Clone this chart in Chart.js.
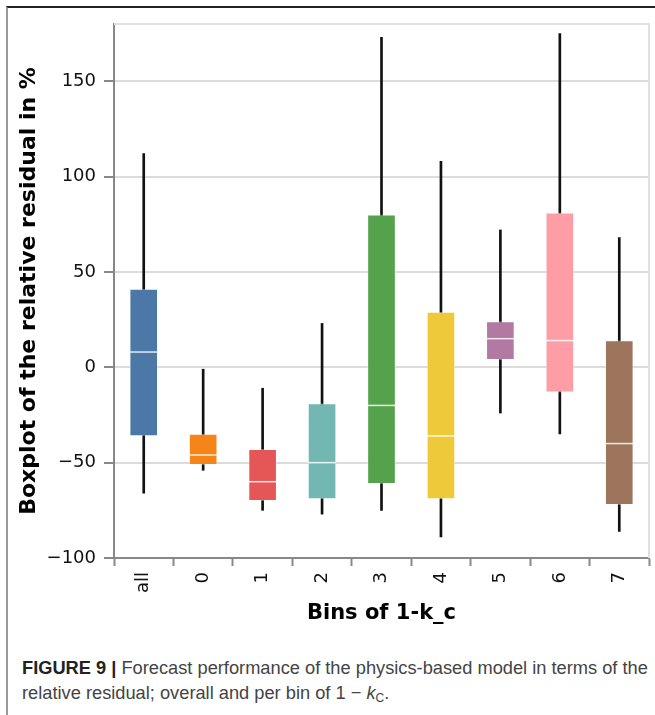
<!DOCTYPE html>
<html>
<head>
<meta charset="utf-8">
<script src="https://cdn.jsdelivr.net/npm/chart.js@4.4.1/dist/chart.umd.min.js"></script>
<style>
  html, body { margin: 0; padding: 0; background: #fff; }
  #page { position: relative; width: 655px; height: 715px; overflow: hidden; }
  #frame { position: absolute; left: 6px; top: 6px; width: 648px; height: 720px;
           border-top: 2px solid #222; border-left: 2px solid #999; }
  #wrap { position: absolute; left: 0; top: 0; width: 655px; height: 630px; }
  #caption { position: absolute; left: 22px; top: 655px; width: 632px;
             font-family: "Liberation Sans", Arial, sans-serif; font-size: 18.25px;
             line-height: 25px; color: #444; white-space: nowrap; }
  #caption b { color: #222; }
  #caption sub { font-size: 12px; vertical-align: -3px; }
</style>
</head>
<body>
<div id="page">
  <div id="frame"></div>
  <div id="wrap"><canvas id="boxChart" width="655" height="630"></canvas></div>
  <div id="caption"><b>FIGURE 9 |</b> Forecast performance of the physics-based model in terms of the<br>relative residual; overall and per bin of 1 &minus; <i>k</i><sub>C</sub>.</div>
</div>
<script>
// === DADOS ===
const bins = ['all', '0', '1', '2', '3', '4', '5', '6', '7'];
const whiskerLow  = [-66, -54, -75, -77, -75, -89, -24, -35, -86];
const q1          = [-36, -51, -70, -69, -61, -69,   4, -13, -72];
const median      = [  8, -46, -60, -50, -20, -36,  15,  14, -40];
const q3          = [ 41, -35, -43, -19,  80,  29,  24,  81,  14];
const whiskerHigh = [112,  -1, -11,  23, 173, 108,  72, 175,  68];
const yTicks = [-100, -50, 0, 50, 100, 150];
const colors = ['#4c78a8','#f58518','#e45756','#72b7b2','#54a24b','#eeca3b','#b279a2','#ff9da6','#9d755d'];

const minus = v => v < 0 ? '\u2212' + Math.abs(v) : String(v);

// === LINHA DA MEDIANA + MOLDURA ===
const boxExtras = {
    id: 'boxExtras',
    afterDatasetsDraw(chart){
        const ctx = chart.ctx;
        const y = chart.scales.y;
        const meta = chart.getDatasetMeta(1);
        ctx.save();
        ctx.strokeStyle = 'rgba(255,255,255,0.85)';
        ctx.lineWidth = 1.5;
        meta.data.forEach((bar, i) => {
            const py = y.getPixelForValue(median[i]);
            ctx.beginPath();
            ctx.moveTo(bar.x - bar.width / 2, py);
            ctx.lineTo(bar.x + bar.width / 2, py);
            ctx.stroke();
        });
        ctx.restore();
    },
    beforeDatasetsDraw(chart){
        const {ctx, chartArea: a} = chart;
        ctx.save();
        ctx.strokeStyle = '#e0e0e0';
        ctx.lineWidth = 2;
        ctx.beginPath();
        ctx.moveTo(a.left, a.top);
        ctx.lineTo(a.right, a.top);
        ctx.lineTo(a.right, a.bottom);
        ctx.stroke();
        ctx.restore();
    }
};

// === GRÁFICO Chart.js ===
const ctx = document.getElementById('boxChart').getContext('2d');
new Chart(ctx, {
    type: 'bar',
    data: {
        labels: bins,
        datasets: [
            {
                label: 'whisker',
                data: bins.map((b, i) => [whiskerLow[i], whiskerHigh[i]]),
                backgroundColor: '#111',
                barThickness: 2,
                grouped: false,
                order: 2
            },
            {
                label: 'box',
                data: bins.map((b, i) => [q1[i], q3[i]]),
                backgroundColor: colors,
                borderColor: 'rgba(255,255,255,0.35)',
                borderWidth: 1,
                borderSkipped: false,
                barThickness: 28,
                grouped: false,
                order: 1
            }
        ]
    },
    options: {
        responsive: false,
        animation: false,
        layout: { padding: { left: 10, top: 24, right: 6, bottom: 0 } },
        plugins: { legend: { display: false }, tooltip: { enabled: false } },
        scales: {
            x: {
                grid: { drawOnChartArea: false, tickColor: '#888', tickLength: 8, tickWidth: 2 },
                border: { color: '#888', width: 2 },
                ticks: {
                    color: '#111', autoSkip: false, minRotation: 90, maxRotation: 90, padding: 6,
                    font: { family: 'DejaVu Sans', size: 18 }
                },
                title: {
                    display: true, text: 'Bins of 1-k_c', color: '#000',
                    font: { family: 'DejaVu Sans', size: 21, weight: 'bold' },
                    padding: { top: 0, bottom: 4 }
                },
                afterFit: s => { s.height = 72; }
            },
            y: {
                min: -100, max: 180,
                grid: { color: '#dcdcdc', lineWidth: 2, tickColor: '#888', tickLength: 10, tickWidth: 2 },
                border: { color: '#888', width: 2 },
                ticks: {
                    color: '#111', padding: 8,
                    font: { family: 'DejaVu Sans', size: 18 },
                    callback: v => minus(v)
                },
                afterBuildTicks: s => { s.ticks = yTicks.map(v => ({ value: v })); },
                title: {
                    display: true, text: 'Boxplot of the relative residual in %', color: '#000',
                    font: { family: 'DejaVu Sans', size: 22, weight: 'bold' },
                    padding: { top: 6, bottom: 0 }
                },
                afterFit: s => { s.width = 104; }
            }
        }
    },
    plugins: [boxExtras]
});
</script>
</body>
</html>
